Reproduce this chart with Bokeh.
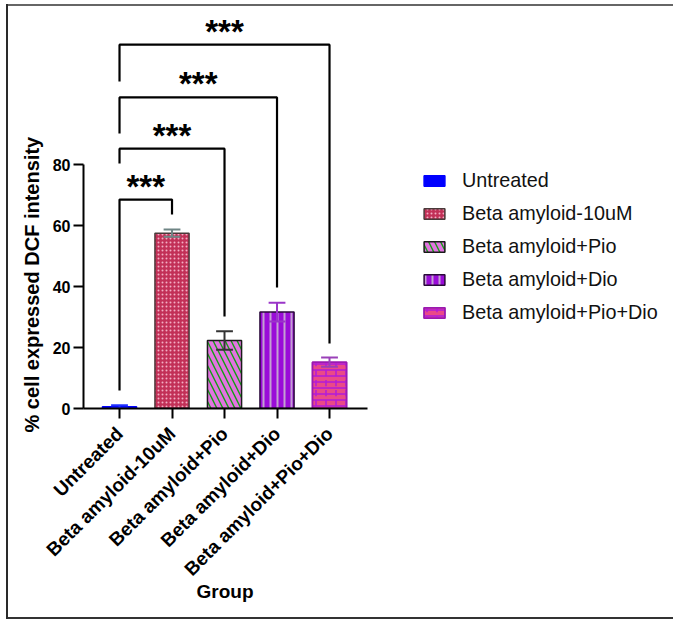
import numpy as np
from bokeh.plotting import figure
from bokeh.models import Range1d, FixedTicker, LinearAxis, Legend, LegendItem, Title
from bokeh.embed import file_html
from bokeh.resources import INLINE
from bokeh.core.properties import value

# ---------------- data ----------------
groups = ["Untreated", "Beta amyloid-10uM", "Beta amyloid+Pio",
          "Beta amyloid+Dio", "Beta amyloid+Pio+Dio"]
means = [0.6, 57.5, 22.3, 31.6, 15.2]
sds = [0.5, 1.2, 3.0, 3.1, 1.5]
y_ticks = [0, 20, 40, 60, 80]
x_title = "Group"
y_title = "% cell expressed DCF intensity"

# significance brackets (all versus "Untreated")
cmp_ref = [0, 0, 0, 0]
cmp_target = [1, 2, 3, 4]
bracket_top = [68.5, 85.2, 102.0, 119.3]
bracket_left_bottom = [5.9, 80.3, 90.2, 107.2]
bracket_right_bottom = [63.6, 30.2, 39.7, 21.3]
sig_labels = ["***", "***", "***", "***"]

# ---------------- styles ----------------
fill_colors = ["#0000ff", "#c23057", "#0fa00f", "#9a0cd8", "#ea4a88"]
line_colors = ["#0000ff", "#4a3a3a", "#1a1a1a", "#2a0a3a", "#9a1ab0"]
hatch_patterns = [None, "dot", "left_diagonal_line", "vertical_line", "horizontal_line"]
hatch_colors = ["#0000ff", "#f2aec3", "#e274e0", "#c4a0d2", "#b41cd6"]
hatch_scales = [8, 4, 12, 7, 6]
hatch_weights = [1, 1.3, 4, 2, 1.6]
err_colors = ["#2030ff", "#6f8585", "#333333", "#9a35c8", "#9a40b8"]

FONT = "Liberation Sans"
W, H = 673, 620
ML, MR, MT, MB = 83, 5, 12, 212
PX_PER_CAT = 52.5
PX_PER_UNIT = 3.05
x_start = -0.686
x_end = x_start + (W - ML - MR) / PX_PER_CAT
y_end = (H - MT - MB) / PX_PER_UNIT

p = figure(width=W, height=H, output_backend="svg", toolbar_location=None,
           x_range=Range1d(x_start, x_end), y_range=Range1d(0, y_end),
           x_axis_location=None, y_axis_location=None,
           min_border_left=ML, min_border_right=MR, min_border_top=MT,
           min_border_bottom=MB)
p.outline_line_color = None
p.border_fill_alpha = 0
p.background_fill_alpha = 0
for c in list(p.center):
    c.visible = False
# thin picture frame around the whole image (drawn as page background)
p.styles = {
    "background": ("linear-gradient(#2a2a2a,#2a2a2a) 6px 4px / 2px 615px no-repeat, "
                   "linear-gradient(#666,#666) 6px 4px / 667px 2px no-repeat, "
                   "linear-gradient(#333,#333) 6px 617px / 667px 2px no-repeat, #ffffff"),
}

xs = np.arange(len(groups), dtype=float)
means_a = np.array(means)
sds_a = np.array(sds)
upper = means_a + sds_a
lower = means_a - sds_a

items = []
for i, g in enumerate(groups):
    kw = dict(x=[xs[i]], top=[means[i]], bottom=0, width=0.65,
              fill_color=fill_colors[i], line_color=line_colors[i], line_width=1.5)
    if hatch_patterns[i] is not None:
        kw.update(hatch_pattern=hatch_patterns[i], hatch_color=hatch_colors[i],
                  hatch_scale=hatch_scales[i], hatch_weight=hatch_weights[i])
    r = p.vbar(**kw)
    rends = [r]
    if i == 4:
        r2 = p.vbar(x=[xs[i]], top=[means[i]], bottom=0, width=0.65,
                    fill_alpha=0, line_color=line_colors[i], line_width=1.5,
                    hatch_pattern="vertical_dash", hatch_color=hatch_colors[i],
                    hatch_scale=10, hatch_weight=1.6)
        rends.append(r2)
    items.append(LegendItem(label=g, renderers=rends))

# error bars
cw = 0.32
p.segment(x0=xs, y0=lower, x1=xs, y1=upper, line_color=err_colors, line_width=2)
p.segment(x0=xs - cw / 2, y0=upper, x1=xs + cw / 2, y1=upper, line_color=err_colors, line_width=2)
p.segment(x0=xs - cw / 2, y0=lower, x1=xs + cw / 2, y1=lower, line_color=err_colors, line_width=2)

# brackets
bx, by = [], []
for a, b, h, lb, rb in zip(cmp_ref, cmp_target, bracket_top,
                           bracket_left_bottom, bracket_right_bottom):
    bx.append([xs[a], xs[a], xs[b], xs[b]])
    by.append([lb, h, h, rb])
p.multi_line(xs=bx, ys=by, line_color="black", line_width=2.2)

star_x = [(xs[a] + xs[b]) / 2 for a, b in zip(cmp_ref, cmp_target)]
star_y = [h + 13.5 / PX_PER_UNIT for h in bracket_top]
p.text(x=star_x, y=star_y, text=sig_labels, text_align="center",
       text_baseline="alphabetic", text_font=value(FONT),
       text_font_size="33px", text_font_style="bold", text_color="black")

# axes
xaxis = LinearAxis(ticker=FixedTicker(ticks=list(xs)),
                   major_label_overrides={i: g for i, g in enumerate(groups)},
                   bounds=(x_start, xs[-1] + 0.724))
yaxis = LinearAxis(ticker=FixedTicker(ticks=y_ticks), bounds=(y_ticks[0], y_ticks[-1]))
for ax in (xaxis, yaxis):
    ax.axis_line_width = 2
    ax.axis_line_color = "black"
    ax.major_tick_line_width = 2
    ax.major_tick_line_color = "black"
    ax.major_tick_out = 10
    ax.major_tick_in = 0
    ax.minor_tick_line_color = None
    ax.major_label_text_font = FONT
    ax.major_label_text_font_style = "bold"
    ax.major_label_text_color = "black"
xaxis.major_label_text_font_size = "19px"
xaxis.major_label_orientation = np.pi / 4
xaxis.major_label_standoff = 12
yaxis.major_label_text_font_size = "16px"
yaxis.major_label_standoff = 3
p.add_layout(xaxis, "below")
p.add_layout(yaxis, "left")

# axis titles, placed along the drawn axis extents as in the original
p.add_layout(Title(text=x_title, align="left", offset=113, standoff=-20,
                   vertical_align="top", text_font=FONT, text_font_size="19px",
                   text_font_style="bold", text_color="black"), "below")
p.add_layout(Title(text=y_title, align="left", offset=-24, standoff=14,
                   vertical_align="bottom", text_font=FONT, text_font_size="20px",
                   text_font_style="bold", text_color="black"), "left")

legend = Legend(items=items, location=(338, 84), orientation="vertical",
                glyph_width=26, glyph_height=13, label_standoff=15,
                label_text_font=FONT, label_text_font_size="19.8px",
                label_text_color="#111111", label_height=22, spacing=10,
                padding=0, margin=0, border_line_color=None,
                background_fill_alpha=0)
p.add_layout(legend)

open("out.html", "w").write(file_html(p, INLINE))
